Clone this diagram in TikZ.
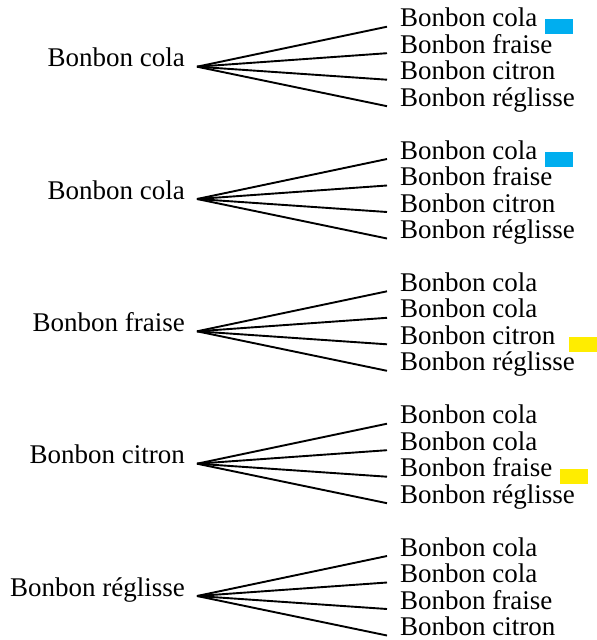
\documentclass[tikz,border=0pt]{standalone}
\usepackage{fontspec}
\setmainfont{Liberation Serif}
\definecolor{markblue}{HTML}{00AEEF}
\definecolor{markyellow}{HTML}{FFED00}
\begin{document}
\begin{tikzpicture}[x=1pt,y=1pt,
  txt/.style={inner sep=0pt, font=\fontsize{27}{30}\selectfont},
  root/.style={txt, anchor=base east},
  leaf/.style={txt, anchor=base west},
  branch/.style={line width=1.9pt},
  tagbox/.style={inner sep=0pt, minimum width=28pt, minimum height=15pt, anchor=west}
]
\useasboundingbox (0,0) rectangle (597,-640);
\foreach \i/\y/\r/\a/\b/\c/\d in {
  1/66.7/Bonbon cola/Bonbon cola/Bonbon fraise/Bonbon citron/Bonbon réglisse,
  2/199/Bonbon cola/Bonbon cola/Bonbon fraise/Bonbon citron/Bonbon réglisse,
  3/331.3/Bonbon fraise/Bonbon cola/Bonbon cola/Bonbon citron/Bonbon réglisse,
  4/463.7/Bonbon citron/Bonbon cola/Bonbon cola/Bonbon fraise/Bonbon réglisse,
  5/596/Bonbon réglisse/Bonbon cola/Bonbon cola/Bonbon fraise/Bonbon citron}{
  \coordinate (f\i) at (197,-\y);
  \node[root] (r\i) at (185,-\y) {\r};
  \coordinate (e\i1) at (387,{-\y+40});
  \coordinate (e\i2) at (387,{-\y+13.5});
  \coordinate (e\i3) at (387,{-\y-13});
  \coordinate (e\i4) at (387,{-\y-39.5});
  \node[leaf] (l\i1) at (400,{-\y+40}) {\a};
  \node[leaf] (l\i2) at (400,{-\y+13.5}) {\b};
  \node[leaf] (l\i3) at (400,{-\y-13}) {\c};
  \node[leaf] (l\i4) at (400,{-\y-39.5}) {\d};
  \foreach \j in {1,2,3,4} {\draw[branch] (f\i) -- (e\i\j);}
}
\coordinate (xb) at (545,0);
\coordinate (xc) at (569,0);
\coordinate (xf) at (560,0);
\node[tagbox, fill=markblue] (m1) at (l11.base -| xb) {};
\node[tagbox, fill=markblue] (m2) at (l21.base -| xb) {};
\node[tagbox, fill=markyellow] (m3) at (l33.base -| xc) {};
\node[tagbox, fill=markyellow] (m4) at (l43.base -| xf) {};
\end{tikzpicture}
\end{document}
